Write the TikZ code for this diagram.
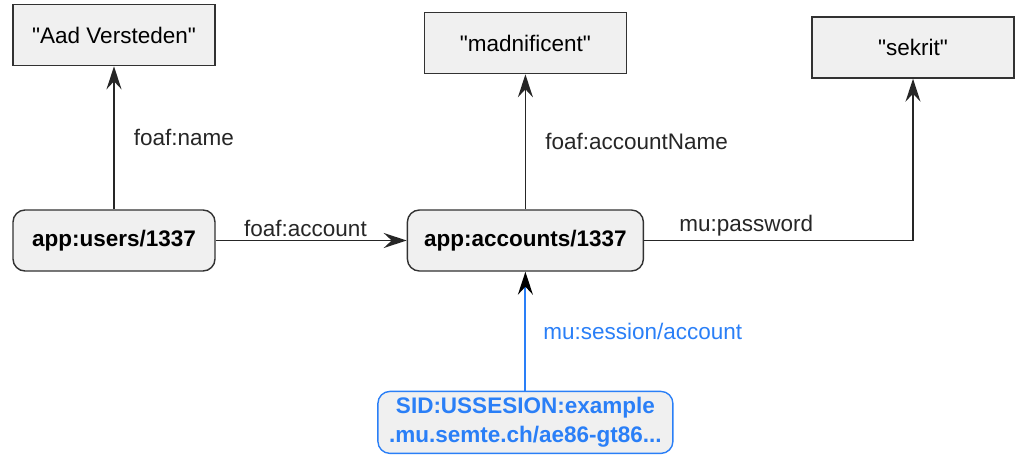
\documentclass[tikz,border=0pt]{standalone}
\usepackage{fontspec}
\setmainfont{Liberation Sans}
\usetikzlibrary{positioning, arrows.meta}

\definecolor{boxfill}{RGB}{240,240,240}
\definecolor{boxline}{RGB}{50,50,50}
\definecolor{mublue}{RGB}{42,127,247}

\newcommand{\qt}[1]{\textquotedbl#1\textquotedbl}

\begin{document}
\begin{tikzpicture}[x=1pt, y=-1pt,
  literal/.style={draw=boxline, fill=boxfill, line width=1.4pt, minimum width=202pt,
                  minimum height=61pt, align=center, font=\fontsize{22.5}{27}\selectfont},
  resource/.style={draw=boxline, fill=boxfill, line width=1.4pt, rounded corners=12pt,
                   minimum height=61pt, align=center,
                   font=\fontsize{22.5}{27}\selectfont\bfseries},
  session/.style={resource, draw=mublue, text=mublue, minimum width=295pt,
                  minimum height=62pt, font=\fontsize{22.5}{29}\selectfont\bfseries},
  arr/.style={-{Stealth[length=23pt, width=15pt, inset=8pt]}, line width=1.8pt, color=black!85},
  blarr/.style={-{Stealth[length=23pt, width=15pt, inset=8pt, black]},
                line width=2pt, color=mublue},
  lbl/.style={font=\fontsize{22.5}{27}\selectfont, text=black!85, inner sep=3pt},
]
\useasboundingbox (0,0) rectangle (1024,461);

% Resources
\node[resource, minimum width=202pt] (users) at (114,240.5) {app:users/1337};
\node[resource, minimum width=236pt, right=191pt of users] (accounts) {app:accounts/1337};

% Literals
\node[literal, above=143pt of users] (name) {\qt{Aad Versteden}};
\node[literal, above=135pt of accounts] (nick) {\qt{madnificent}};
\node[literal] (secret) at (913,47.5) {\qt{sekrit}};

% Session
\node[session, below=119pt of accounts] (sid) {SID:USSESION:example\\.mu.semte.ch/ae86-gt86...};

% Edges
\draw[arr] (users) -- node[lbl, right=16pt] {foaf:name} (name);
\draw[arr] (users) -- node[lbl, above, pos=0.47] {foaf:account} (accounts);
\draw[arr] (accounts) -- node[lbl, right=16pt] {foaf:accountName} (nick);
\draw[arr] (accounts.east) -| node[lbl, above, pos=0.19] {mu:password} (secret.south);
\draw[blarr] (sid) -- node[lbl, right=14pt, text=mublue] {mu:session/account} (accounts);

\end{tikzpicture}
\end{document}
